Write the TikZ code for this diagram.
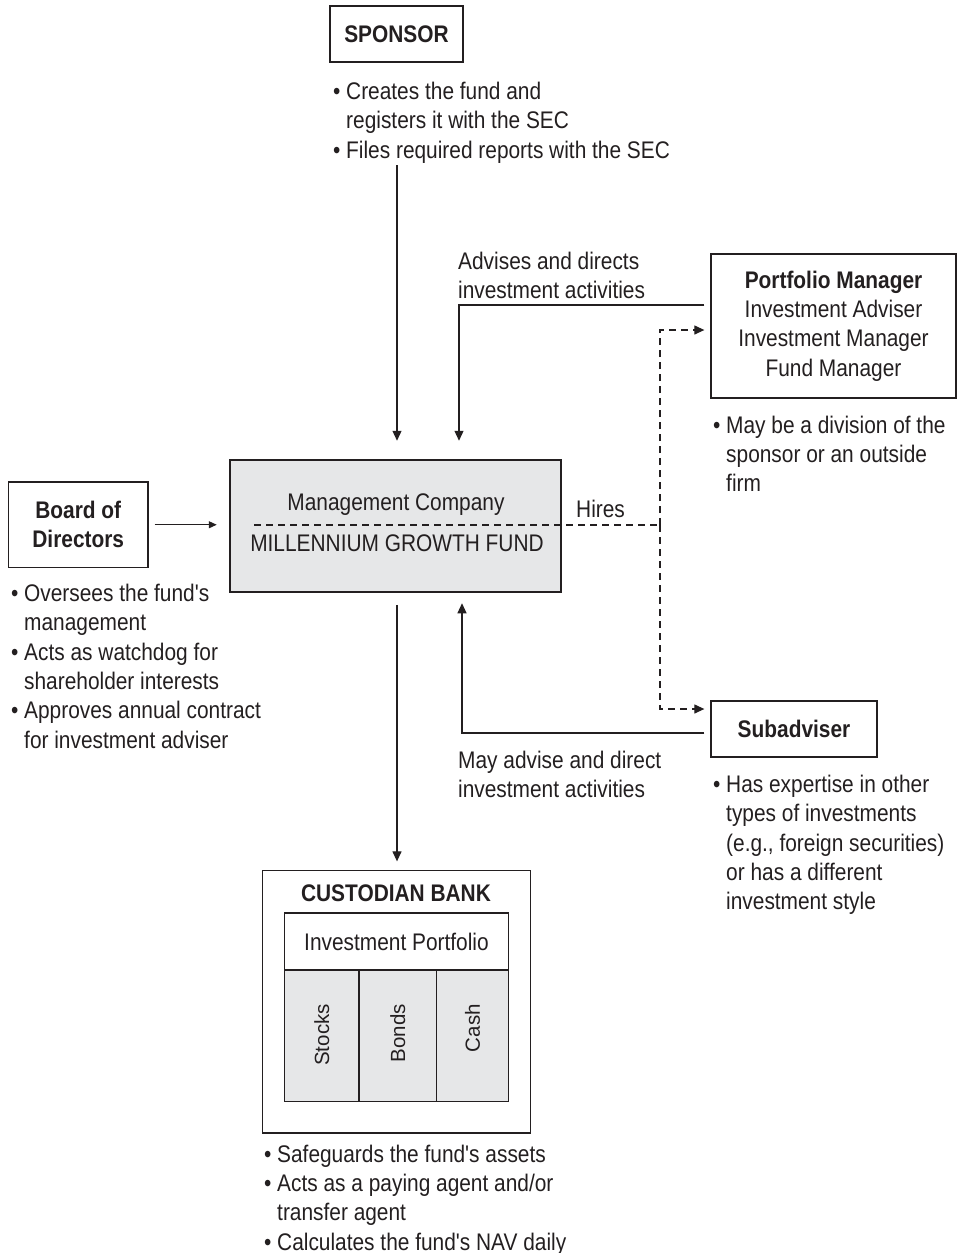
\documentclass[tikz,border=0pt]{standalone}
\usepackage{fontspec}
\setmainfont{Liberation Sans}[FakeStretch=0.87, Ligatures=TeXOff]
\newfontfamily\widesans{Liberation Sans}
\usetikzlibrary{arrows.meta,calc}
\definecolor{ink}{HTML}{231F20}
\definecolor{fillgray}{HTML}{E6E7E8}
\newcommand{\bitem}{\makebox[13pt][l]{•}}
\newcommand{\bcont}{\hspace*{13pt}}
\newcommand{\sq}{{\char39}}
\begin{document}
\begin{tikzpicture}[x=1pt,y=-1pt,
 every node/.style={inner sep=0pt, text=ink, font=\fontsize{24}{29.3}\selectfont},
 boldf/.style={font=\fontsize{24}{29.3}\selectfont\bfseries},
 box/.style={draw=ink, line width=1.3pt},
 txt/.style={align=left, anchor=north west},
 conn/.style={draw=ink, line width=1.2pt, -{Triangle[length=10pt,width=9pt]}},
 hireline/.style={draw=ink, line width=1.2pt, dash pattern=on 7pt off 5pt},
 hire/.style={conn, dash pattern=on 7pt off 5pt, shorten >=6pt},
 collabel/.style={rotate=90, anchor=east, font=\widesans\fontsize{20.5}{24}\selectfont},
 column/.style={box, fill=fillgray, minimum height=131.5pt},
]
\useasboundingbox (0,0) rectangle (957,1253);

% Sponsor
\node[box, boldf, minimum width=133pt, minimum height=56pt] (sponsor) at (396.5,34) {SPONSOR};
\node[txt] (sponsorlist) at (333,82) {\bitem Creates the fund and\\\bcont registers it with the SEC\\\bitem Files required reports with the SEC};

% Portfolio manager
\node[box, align=center, minimum width=245pt, minimum height=144pt] (pm) at (833.5,326) {\textbf{Portfolio Manager}\\Investment Adviser\\Investment Manager\\Fund Manager};
\node[txt] (pmlist) at (713,415.5) {\bitem May be a division of the\\\bcont sponsor or an outside\\\bcont firm};

% Management company
\node[box, line width=2.5pt, fill=fillgray, minimum width=331pt, minimum height=132pt] (mgmt) at (395.5,526) {};
\node (mc) at (396,505) {Management Company};
\node (mgf) at (397,543) {MILLENNIUM GROWTH FUND};
\node[anchor=west] (hires) at (576,509) {Hires};

% Subadviser
\node[box, boldf, minimum width=166pt, minimum height=56pt] (sub) at (794,729) {Subadviser};
\node[txt] (sublist) at (713,775) {\bitem Has expertise in other\\\bcont types of investments\\\bcont (e.g., foreign securities)\\\bcont or has a different\\\bcont investment style};

% Board
\node[box, boldf, align=center, minimum width=139.5pt, minimum height=85.5pt] (board) at (78.25,524.75) {Board of\\Directors};
\node[txt] (boardlist) at (11,584) {\bitem Oversees the fund\sq s\\\bcont management\\\bitem Acts as watchdog for\\\bcont shareholder interests\\\bitem Approves annual contract\\\bcont for investment adviser};

% Custodian
\node[box, minimum width=268pt, minimum height=262.5pt] (cust) at (396.5,1001.75) {};
\node[boldf] (custt) at (396,893) {CUSTODIAN BANK};
\node[box, minimum width=224pt, minimum height=57pt] (ip) at (396.5,941.5) {Investment Portfolio};
\node[column, minimum width=74.5pt] (stocks) at (321.75,1035.75) {};
\node[column, minimum width=77.5pt] (bonds) at (397.75,1035.75) {};
\node[column, minimum width=72pt] (cash) at (472.5,1035.75) {};
\node[collabel] (stl) at (321.75,1004) {Stocks};
\node[collabel] (bol) at (397.75,1004) {Bonds};
\node[collabel] (cal) at (472.5,1004) {Cash};
\node[txt] (custlist) at (264,1144.5) {\bitem Safeguards the fund\sq s assets\\\bitem Acts as a paying agent and/or\\\bcont transfer agent\\\bitem Calculates the fund\sq s NAV daily};

% Labels
\node[txt] (adv) at (458,252) {Advises and directs\\investment activities};
\node[txt] (mayadv) at (458,751) {May advise and direct\\investment activities};

% Connectors
\coordinate (sp) at (397,165);
\draw[conn] (sp) -- ($(sp |- mgmt.north)+(0,-18)$);
\draw[conn] ($(pm.west)+(-6,-21)$) -| ($(mgmt.north)+(63.5,-18)$);
\draw[conn] ($(sub.west)+(-6,4)$) -| ($(mgmt.south)+(66.5,10)$);
\draw[conn, -{Triangle[length=8pt,width=7pt]}] ($(board.east)+(6,0)$) -- ($(board.east -| mgmt.west)+(-12,0)$);
\draw[conn] ($(mgmt.south)+(1.5,11.5)$) -- ($(cust.north)+(0.5,-8.5)$);

\coordinate (hs) at (254,525);
\coordinate (hj) at (660,525);
\draw[hireline] (hs) -- (hj);
\draw[hire] (hj) |- ($(pm.west)+(0,4)$);
\draw[hire] (hj) |- ($(sub.west)+(0,-20)$);
\end{tikzpicture}
\end{document}
